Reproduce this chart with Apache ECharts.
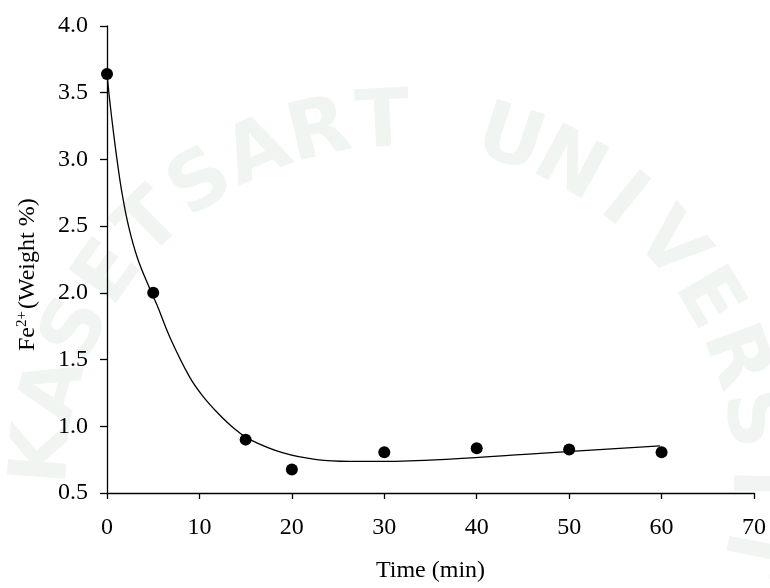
<!DOCTYPE html>
<html>
<head>
<meta charset="utf-8">
<script src="https://cdn.jsdelivr.net/npm/echarts@6/dist/echarts.min.js"></script>
<style>
  html, body { margin: 0; padding: 0; background: #fff; }
  #chart { width: 770px; height: 588px; }
</style>
</head>
<body>
<div id="chart"></div>
<script>
// Measured Fe2+ content over time
const sampleTime = [0, 5, 15, 20, 30, 40, 50, 60];
const sampleFe = [3.64, 2.0, 0.90, 0.677, 0.806, 0.836, 0.826, 0.806];

// Fitted trend curve
const fitTime = [0, 0.28, 0.67, 1.08, 1.62, 2.33, 3.3, 4.7, 5.4, 6.85, 8.93, 10.32, 11.98, 13.82, 15.47, 19.07, 22.69, 26.29, 29.89, 37.11, 46.85, 59.83];
const fitFe = [3.64, 3.45, 3.22, 3.00, 2.75, 2.50, 2.26, 2.02, 1.91, 1.66, 1.37, 1.23, 1.10, 0.98, 0.90, 0.80, 0.75, 0.737, 0.737, 0.754, 0.797, 0.853];

// Axis ticks
const xTicks = [0, 10, 20, 30, 40, 50, 60, 70];
const yTicks = [0.5, 1.0, 1.5, 2.0, 2.5, 3.0, 3.5, 4.0];

const serif = 'Liberation Serif';

// Faint seal lettering in the background
const sealText = 'KASETSART UNIVERSITY';
function sealLetters() {
  const cx = 400, cy = 480, r = 355;
  const start = -155 * Math.PI / 180 - 2 * 0.181;
  const step = 0.181;
  const out = [];
  for (let i = 0; i < sealText.length; i++) {
    const ch = sealText[i];
    if (ch === ' ') continue;
    const th = start + i * step;
    out.push({
      type: 'text',
      silent: true,
      z: -10,
      x: cx + r * Math.cos(th),
      y: cy + r * Math.sin(th),
      rotation: -(th + Math.PI / 2),
      style: {
        text: ch,
        fill: '#f1f5f1',
        font: 'bold 80px "DejaVu Sans"',
        textAlign: 'center',
        textVerticalAlign: 'middle'
      }
    });
  }
  return out;
}

const chart = echarts.init(document.getElementById('chart'), null, { renderer: 'canvas' });

const axisLineStyle = { color: '#000', width: 1.3 };

chart.setOption({
  backgroundColor: '#fff',
  animation: false,
  grid: { left: 107, right: 16, top: 26, bottom: 94, containLabel: false },
  xAxis: {
    type: 'value',
    min: xTicks[0],
    max: xTicks[xTicks.length - 1],
    interval: xTicks[1] - xTicks[0],
    name: 'Time (min)',
    nameLocation: 'middle',
    nameGap: 66,
    nameTextStyle: { fontFamily: serif, fontSize: 24, color: '#000' },
    axisLine: { show: true, lineStyle: axisLineStyle },
    axisTick: { show: true, inside: false, length: 6, lineStyle: axisLineStyle },
    axisLabel: { fontFamily: serif, fontSize: 24, color: '#000', margin: 23 },
    splitLine: { show: false }
  },
  yAxis: {
    type: 'value',
    min: yTicks[0],
    max: yTicks[yTicks.length - 1],
    interval: yTicks[1] - yTicks[0],
    axisLine: { show: true, onZero: false, lineStyle: axisLineStyle },
    axisTick: { show: true, inside: false, length: 7, lineStyle: axisLineStyle },
    axisLabel: {
      fontFamily: serif, fontSize: 24, color: '#000', margin: 19,
      formatter: v => v.toFixed(1)
    },
    splitLine: { show: false }
  },
  graphic: sealLetters().concat([
    {
      type: 'text',
      x: 28,
      y: 351,
      rotation: Math.PI / 2,
      style: {
        text: '{b|Fe}{s|2+}{b|(Weight %)}',
        textAlign: 'left',
        textVerticalAlign: 'middle',
        rich: {
          b: { fontFamily: serif, fontSize: 24, fill: '#000', lineHeight: 26 },
          s: { fontFamily: serif, fontSize: 15, fill: '#000', padding: [0, 2, 12, 0], lineHeight: 26 }
        }
      }
    }
  ]),
  series: [
    {
      type: 'line',
      data: fitTime.map((t, i) => [t, fitFe[i]]),
      smooth: 0.4,
      showSymbol: false,
      symbol: 'none',
      lineStyle: { color: '#000', width: 1.3 },
      silent: true,
      z: 2
    },
    {
      type: 'scatter',
      data: sampleTime.map((t, i) => [t, sampleFe[i]]),
      symbol: 'circle',
      symbolSize: 12,
      itemStyle: { color: '#000', opacity: 1 },
      z: 3
    }
  ]
});
</script>
</body>
</html>
